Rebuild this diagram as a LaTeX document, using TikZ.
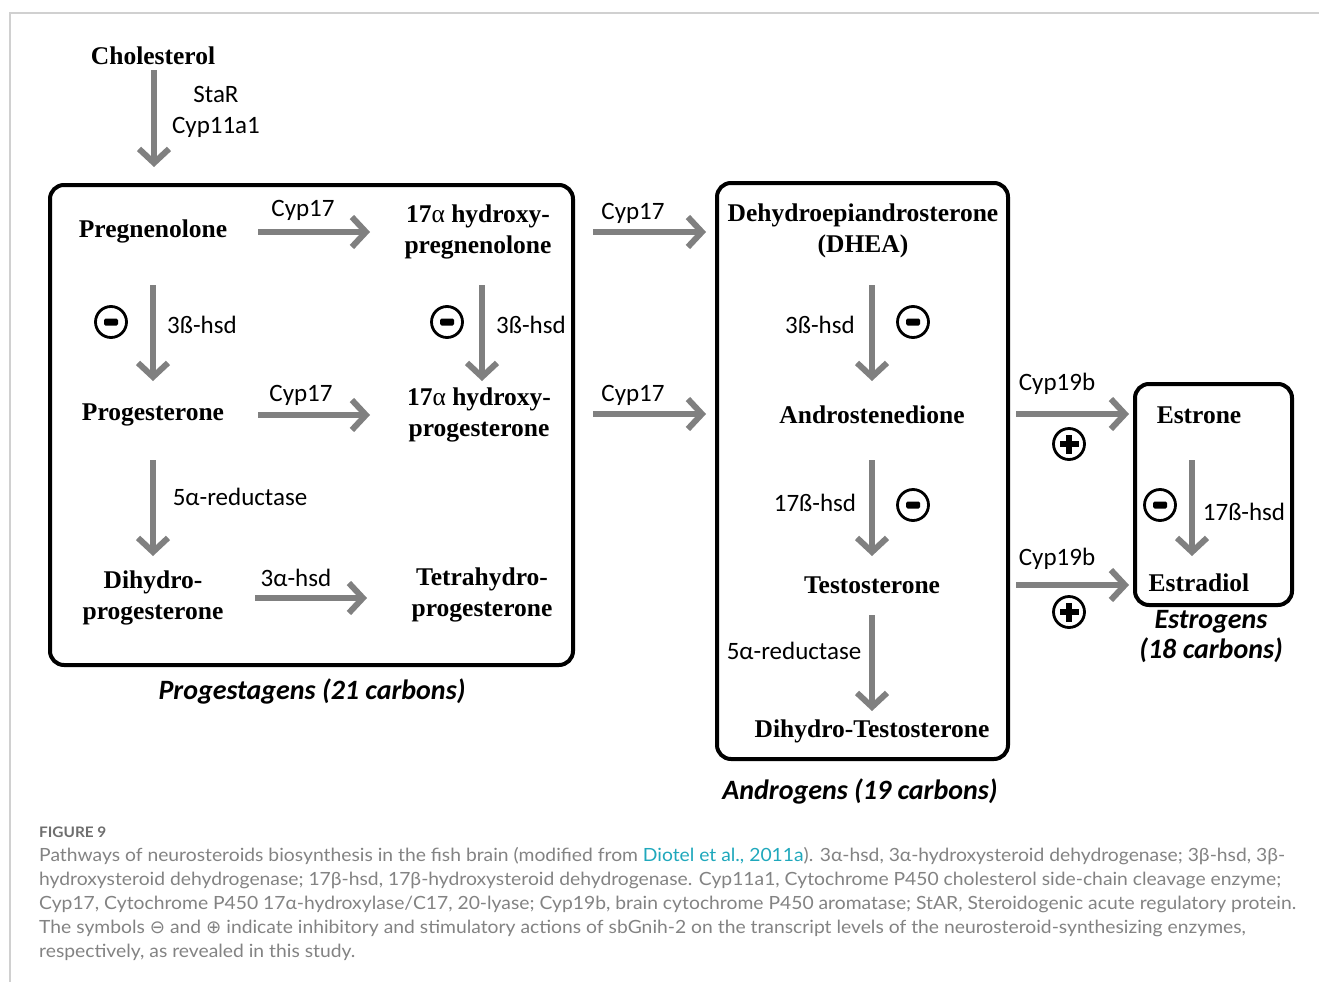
\documentclass[tikz,border=0pt]{standalone}
\usepackage{fontspec}
\setmainfont{Liberation Serif}
\newfontfamily\calib{Carlito}
\newfontfamily\capfont[FakeStretch=1.06]{Lato}
\newfontfamily\symfont{DejaVu Sans}
\usetikzlibrary{arrows.meta}
\definecolor{arrgray}{HTML}{808080}
\definecolor{capgray}{HTML}{838383}
\definecolor{figgray}{HTML}{6E6E6E}
\definecolor{linkteal}{HTML}{1FA8BC}
\definecolor{framegray}{HTML}{D0D0D0}
\begin{document}
\begin{tikzpicture}[x=1pt,y=-1pt,
  chem/.style={font=\fontsize{25.5}{31}\selectfont\bfseries, align=center, inner sep=0pt},
  enz/.style={font=\calib\fontsize{25}{31}\selectfont, align=center, inner sep=0pt},
  grplabel/.style={font=\calib\fontsize{28}{30}\selectfont\bfseries\itshape, align=center, inner sep=0pt},
  rxn/.style={draw=arrgray, line width=6pt, -{Straight Barb[length=14pt,width=30pt]}},
  grp/.style={draw=black, line width=4pt, rounded corners=14pt},
  inhib/.style={circle, draw=black, line width=2.8pt, minimum size=31pt, inner sep=0pt,
    path picture={\fill[black, rounded corners=1.5pt]
      ([xshift=-7pt,yshift=-3.5pt]path picture bounding box.center) rectangle
      ([xshift=7pt,yshift=3.5pt]path picture bounding box.center);}},
  stim/.style={circle, draw=black, line width=2.8pt, minimum size=31pt, inner sep=0pt,
    path picture={\fill[black]
      ([xshift=-9.5pt,yshift=-3pt]path picture bounding box.center) rectangle
      ([xshift=9.5pt,yshift=3pt]path picture bounding box.center);
      \fill[black]
      ([xshift=-3pt,yshift=-9.5pt]path picture bounding box.center) rectangle
      ([xshift=3pt,yshift=9.5pt]path picture bounding box.center);}},
  captext/.style={font=\capfont\fontsize{18.2}{24}\selectfont, text=capgray, anchor=base west, inner sep=0pt}
]
\useasboundingbox (0,0) rectangle (1319,982);
\fill[white] (0,0) rectangle (1319,982);
% outer frame
\draw[framegray, line width=1.2pt] (1319,13) -- (10,13) -- (10,982);

% group boxes
\draw[grp] (50,185) rectangle (573,665);
\draw[grp] (717,183) rectangle (1008,759);
\draw[grp] (1135,384) rectangle (1292,605);

% chemicals
\node[chem] (chol) at (153,56) {Cholesterol};
\node[chem] (preg) at (153,231) {Pregnenolone};
\node[chem] (hpreg) at (478,232) {17{\mdseries α} hydroxy-\\pregnenolone};
\node[chem] (prog) at (153,415) {Progesterone};
\node[chem] (hprog) at (479,415) {17{\mdseries α} hydroxy-\\progesterone};
\node[chem] (dhp) at (153,598) {Dihydro-\\progesterone};
\node[chem] (thp) at (482,595) {Tetrahydro-\\progesterone};
\node[chem] (dhea) at (863,231) {Dehydroepiandrosterone\\(DHEA)};
\node[chem] (andro) at (872,415) {Androstenedione};
\node[chem] (testo) at (872,585) {Testosterone};
\node[chem] (dht) at (872,731) {Dihydro-Testosterone};
\node[chem] (estrone) at (1199,415) {Estrone};
\node[chem] (estradiol) at (1199,583) {Estradiol};

% arrow end points
\coordinate (c1) at (154,70);   \coordinate (c2) at (154,167);
\coordinate (p1) at (258,232);  \coordinate (p2) at (370,232);
\coordinate (p3) at (153,285);  \coordinate (p4) at (153,381);
\coordinate (p5) at (482,285);  \coordinate (p6) at (482,381);
\coordinate (p7) at (258,415);  \coordinate (p8) at (370,415);
\coordinate (p9) at (153,460);  \coordinate (p10) at (153,556);
\coordinate (p11) at (255,598); \coordinate (p12) at (367,598);
\coordinate (q1) at (593,232);  \coordinate (q2) at (706,232);
\coordinate (q3) at (593,414);  \coordinate (q4) at (706,414);
\coordinate (a1) at (872,285);  \coordinate (a2) at (872,381);
\coordinate (a3) at (872,460);  \coordinate (a4) at (872,556);
\coordinate (a5) at (872,615);  \coordinate (a6) at (872,711);
\coordinate (e1) at (1016,414); \coordinate (e2) at (1129,414);
\coordinate (e3) at (1016,585); \coordinate (e4) at (1129,585);
\coordinate (e5) at (1192,460); \coordinate (e6) at (1192,556);

\draw[rxn] (c1) -- (c2);
\draw[rxn] (p1) -- (p2);
\draw[rxn] (p3) -- (p4);
\draw[rxn] (p5) -- (p6);
\draw[rxn] (p7) -- (p8);
\draw[rxn] (p9) -- (p10);
\draw[rxn] (p11) -- (p12);
\draw[rxn] (q1) -- (q2);
\draw[rxn] (q3) -- (q4);
\draw[rxn] (a1) -- (a2);
\draw[rxn] (a3) -- (a4);
\draw[rxn] (a5) -- (a6);
\draw[rxn] (e1) -- (e2);
\draw[rxn] (e3) -- (e4);
\draw[rxn] (e5) -- (e6);

% enzyme labels
\node[enz] (star) at (216,112) {StaR\\Cyp11a1};
\node[enz] (cyp1) at (303,210) {Cyp17};
\node[enz] (cyp2) at (633,213) {Cyp17};
\node[enz] (cyp3) at (301,395) {Cyp17};
\node[enz] (cyp4) at (633,395) {Cyp17};
\node[enz] (hsd1) at (202,325) {3ß-hsd};
\node[enz] (hsd2) at (531,325) {3ß-hsd};
\node[enz] (hsd3) at (820,325) {3ß-hsd};
\node[enz] (red1) at (240,497) {5α-reductase};
\node[enz] (red2) at (794,651) {5α-reductase};
\node[enz] (ahsd) at (296,578) {3α-hsd};
\node[enz] (hsd4) at (815,503) {17ß-hsd};
\node[enz] (hsd5) at (1244,512) {17ß-hsd};
\node[enz] (cyp19a) at (1057,384) {Cyp19b};
\node[enz] (cyp19b) at (1057,559) {Cyp19b};

% regulation symbols
\node[inhib] (m1) at (111,322) {};
\node[inhib] (m2) at (447,322) {};
\node[inhib] (m3) at (913,322) {};
\node[inhib] (m4) at (913,505) {};
\node[inhib] (m5) at (1160,505) {};
\node[stim] (s1) at (1069,444) {};
\node[stim] (s2) at (1069,612) {};

% group labels
\node[grplabel] (lprog) at (312,691) {Progestagens (21 carbons)};
\node[grplabel] (landr) at (860,791) {Androgens (19 carbons)};
\node[grplabel] (lestr) at (1211,637) {Estrogens\\(18 carbons)};

% caption
\node[captext, font=\capfont\fontsize{14.5}{16}\selectfont\bfseries, text=figgray] (figno) at (39,837) {FIGURE 9};
\node[captext] (cl1) at (39,861) {Pathways of neurosteroids biosynthesis in the fish brain (modified from \textcolor{linkteal}{Diotel et al., 2011a}). 3α-hsd, 3α-hydroxysteroid dehydrogenase; 3β-hsd, 3β-};
\node[captext] (cl2) at (39,885) {hydroxysteroid dehydrogenase; 17β-hsd, 17β-hydroxysteroid dehydrogenase. Cyp11a1, Cytochrome P450 cholesterol side-chain cleavage enzyme;};
\node[captext] (cl3) at (39,909) {Cyp17, Cytochrome P450 17α-hydroxylase/C17, 20-lyase; Cyp19b, brain cytochrome P450 aromatase; StAR, Steroidogenic acute regulatory protein.};
\node[captext] (cl4) at (39,933) {The symbols {\symfont ⊖} and {\symfont ⊕} indicate inhibitory and stimulatory actions of sbGnih-2 on the transcript levels of the neurosteroid-synthesizing enzymes,};
\node[captext] (cl5) at (39,957) {respectively, as revealed in this study.};
\end{tikzpicture}
\end{document}
